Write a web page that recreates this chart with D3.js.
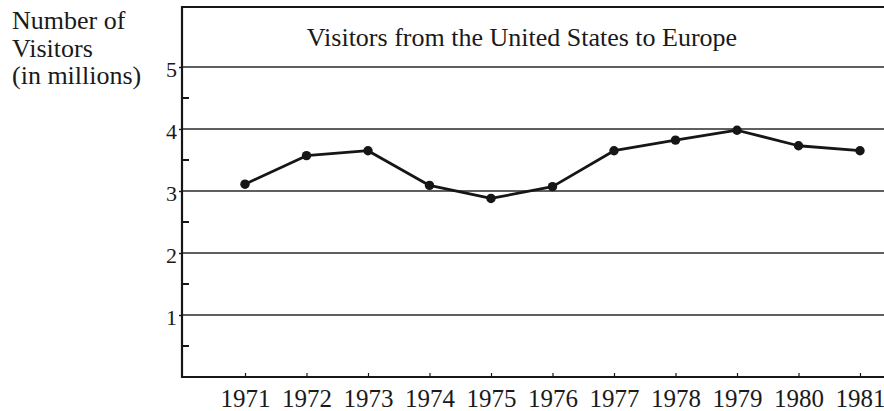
<!DOCTYPE html>
<html>
<head>
<meta charset="utf-8">
<script src="https://cdn.jsdelivr.net/npm/d3@7"></script>
<style>
  html, body { margin: 0; padding: 0; background: #fff; }
  svg { display: block; }
  text { font-family: "Liberation Serif", "DejaVu Serif", serif; fill: #1a1a1a; }
</style>
</head>
<body>
<svg id="chart" width="884" height="411"></svg>
<script>
// Visitors from the United States to Europe, 1971–1981 (millions)
const years = [1971, 1972, 1973, 1974, 1975, 1976, 1977, 1978, 1979, 1980, 1981];
const visitors = [3.11, 3.57, 3.65, 3.09, 2.88, 3.07, 3.65, 3.82, 3.98, 3.73, 3.65];
const yTicks = [1, 2, 3, 4, 5];
const yMinorTicks = [0.5, 1.5, 2.5, 3.5, 4.5];
const titleText = "Visitors from the United States to Europe";
const yLabelLines = ["Number of", "Visitors", "(in millions)"];

const svg = d3.select("#chart");
const W = 884;
const plotLeft = 182, plotBottom = 377, plotTop = 5;
const serif = '"Liberation Serif", "DejaVu Serif", serif';

const x = d3.scaleLinear().domain([1971, 1981]).range([245, 860]);
const y = d3.scaleLinear().domain([0, 6]).range([plotBottom, plotTop]);

const ink = "#161616";

// horizontal grid lines
svg.append("g")
  .selectAll("line")
  .data(yTicks)
  .join("line")
  .attr("x1", plotLeft).attr("x2", W)
  .attr("y1", d => y(d)).attr("y2", d => y(d))
  .attr("stroke", "#2a2a2a").attr("stroke-width", 1.5);

// top border
svg.append("line")
  .attr("x1", plotLeft).attr("x2", W)
  .attr("y1", 7).attr("y2", 7)
  .attr("stroke", ink).attr("stroke-width", 2);

// y axis with labels and short outward ticks
const yAxis = svg.append("g")
  .attr("transform", `translate(${plotLeft},0)`)
  .call(d3.axisLeft(y).tickValues(yTicks).tickSize(3).tickPadding(2).tickFormat(d3.format("d")));
yAxis.attr("font-family", serif);
yAxis.select(".domain").remove();
yAxis.selectAll(".tick line").attr("stroke", ink).attr("stroke-width", 1.4);
yAxis.selectAll(".tick text")
  .attr("font-size", 22)
  .attr("dy", "0.42em")
  .attr("fill", ink);

// inward half-unit ticks
svg.append("g")
  .selectAll("line")
  .data(yMinorTicks)
  .join("line")
  .attr("x1", plotLeft).attr("x2", plotLeft + 7)
  .attr("y1", d => y(d)).attr("y2", d => y(d))
  .attr("stroke", ink).attr("stroke-width", 2);

// left axis line
svg.append("line")
  .attr("x1", plotLeft).attr("x2", plotLeft)
  .attr("y1", 6).attr("y2", plotBottom + 1)
  .attr("stroke", ink).attr("stroke-width", 2.2);

// x axis with short upward ticks
const xAxis = svg.append("g")
  .attr("transform", `translate(0,${plotBottom})`)
  .call(d3.axisBottom(x).tickValues(years).tickSize(0).tickPadding(0).tickFormat(d3.format("d")));
xAxis.attr("font-family", serif);
xAxis.select(".domain").remove();
xAxis.selectAll(".tick text")
  .attr("font-size", 25)
  .attr("y", 30)
  .attr("dy", 0)
  .attr("fill", ink);
xAxis.selectAll(".tick line")
  .attr("y1", 0).attr("y2", -4)
  .attr("stroke", ink).attr("stroke-width", 1.2);

svg.append("line")
  .attr("x1", plotLeft - 1).attr("x2", W)
  .attr("y1", plotBottom).attr("y2", plotBottom)
  .attr("stroke", ink).attr("stroke-width", 2.2);

// data line and markers
const line = d3.line()
  .x((d, i) => x(years[i]))
  .y(d => y(d));

svg.append("path")
  .datum(visitors)
  .attr("d", line)
  .attr("fill", "none")
  .attr("stroke", ink)
  .attr("stroke-width", 2.8)
  .attr("stroke-linejoin", "round");

svg.append("g")
  .selectAll("circle")
  .data(visitors)
  .join("circle")
  .attr("cx", (d, i) => x(years[i]))
  .attr("cy", d => y(d))
  .attr("r", 4.7)
  .attr("fill", ink);

// title
svg.append("text")
  .attr("x", 522).attr("y", 46)
  .attr("text-anchor", "middle")
  .attr("font-family", serif)
  .attr("font-size", 26)
  .text(titleText);

// y axis label
svg.append("g")
  .selectAll("text")
  .data(yLabelLines)
  .join("text")
  .attr("x", 12)
  .attr("y", (d, i) => 29 + i * 27.5)
  .attr("font-family", serif)
  .attr("font-size", 26)
  .text(d => d);
</script>
</body>
</html>
